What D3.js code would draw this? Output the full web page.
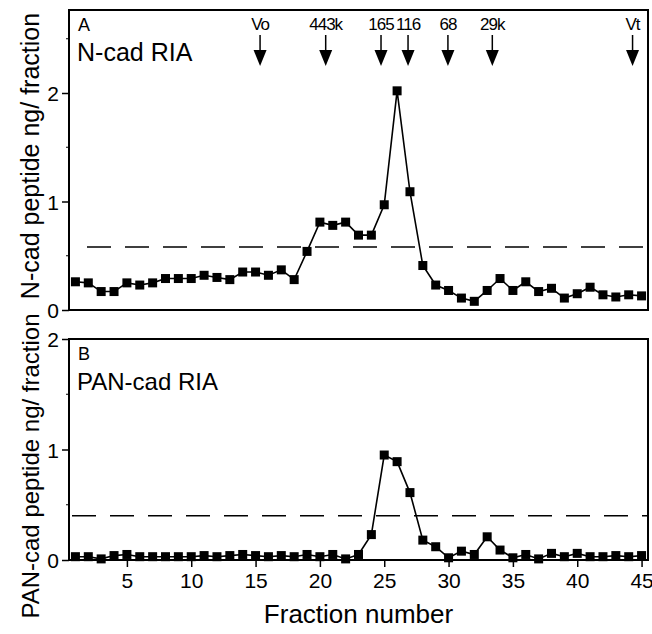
<!DOCTYPE html>
<html>
<head>
<meta charset="utf-8">
<script src="https://cdn.jsdelivr.net/npm/d3@7"></script>
<style>
  body { margin: 0; background: #fff; }
  text { font-family: "Liberation Sans", Arial, sans-serif; fill: #000; }
</style>
</head>
<body>
<script>
// fractions 1..45
var fractions = d3.range(1, 46);

var ncad = [0.26, 0.25, 0.17, 0.17, 0.25, 0.23, 0.25, 0.29, 0.29, 0.29,
            0.32, 0.30, 0.28, 0.35, 0.35, 0.32, 0.37, 0.28, 0.54, 0.81,
            0.78, 0.81, 0.69, 0.69, 0.97, 2.02, 1.09, 0.41, 0.23, 0.18,
            0.11, 0.08, 0.18, 0.29, 0.18, 0.26, 0.17, 0.20, 0.11, 0.15,
            0.21, 0.14, 0.12, 0.14, 0.13];

var pancad = [0.03, 0.03, 0.01, 0.04, 0.05, 0.03, 0.03, 0.03, 0.03, 0.03,
              0.04, 0.03, 0.04, 0.05, 0.04, 0.03, 0.04, 0.03, 0.05, 0.03,
              0.05, 0.01, 0.05, 0.23, 0.95, 0.89, 0.61, 0.18, 0.12, 0.02,
              0.08, 0.05, 0.21, 0.09, 0.02, 0.05, 0.01, 0.06, 0.03, 0.06,
              0.03, 0.03, 0.04, 0.03, 0.04];

var thresholdA = 0.58;
var thresholdB = 0.40;

var markerLabels = ["Vo", "443k", "165", "116", "68", "29k", "Vt"];
var markerFractions = [15.35, 20.45, 24.75, 26.85, 29.95, 33.4, 44.3];

var xTicks = [5, 10, 15, 20, 25, 30, 35, 40, 45];
var yTicks = [0, 1, 2];

var width = 652, height = 634;
var left = 69, right = 648;

var svg = d3.select("body").append("svg")
    .attr("width", width)
    .attr("height", height);

var x = d3.scaleLinear().domain([0.5, 45.5]).range([left, right]);

function drawPanel(opts) {
    var y = d3.scaleLinear().domain(opts.domain).range([opts.bottom, opts.top]);
    var g = svg.append("g");

    // frame
    g.append("rect")
        .attr("x", left).attr("y", opts.top)
        .attr("width", right - left).attr("height", opts.bottom - opts.top)
        .attr("fill", "none").attr("stroke", "#000").attr("stroke-width", 2);

    // y axis
    var yAxis = d3.axisLeft(y).tickValues(yTicks).tickSize(7).tickPadding(3).tickFormat(d3.format("d"));
    var ya = g.append("g").attr("transform", "translate(" + left + ",0)").call(yAxis);
    ya.select(".domain").remove();
    ya.selectAll("line").attr("stroke-width", 1.5);
    ya.selectAll("text").style("font-size", "21px").attr("dy", "0.36em");
    // minor ticks
    g.selectAll(".minor").data([0.5, 1.5, 2.5].filter(function(v) { return v < opts.domain[1]; }))
        .enter().append("line")
        .attr("x1", left - 3).attr("x2", left)
        .attr("y1", function(d) { return y(d); }).attr("y2", function(d) { return y(d); })
        .attr("stroke", "#000").attr("stroke-width", 1);

    // dashed line
    g.append("line")
        .attr("x1", opts.dashStart).attr("x2", right)
        .attr("y1", y(opts.threshold)).attr("y2", y(opts.threshold))
        .attr("stroke", "#000").attr("stroke-width", 1.5)
        .attr("stroke-dasharray", "24,14");

    var pts = fractions.map(function(f, i) { return [f, opts.values[i]]; });
    g.append("path")
        .datum(pts)
        .attr("fill", "none").attr("stroke", "#000").attr("stroke-width", 1.6)
        .attr("d", d3.line().x(function(d) { return x(d[0]); }).y(function(d) { return y(d[1]); }));

    g.selectAll(".pt").data(pts).enter().append("rect")
        .attr("x", function(d) { return x(d[0]) - 4.5; })
        .attr("y", function(d) { return y(d[1]) - 4.5; })
        .attr("width", 9).attr("height", 9)
        .attr("fill", "#000");

    g.append("text").attr("x", left + 9).attr("y", opts.top + 21)
        .style("font-size", "18px").text(opts.letter);
    g.append("text").attr("x", left + 8).attr("y", opts.top + opts.titleDy)
        .style("font-size", opts.titleSize).text(opts.title);

    // axis title
    g.append("text")
        .attr("transform", "translate(39," + opts.labelY + ") rotate(-90)")
        .attr("text-anchor", "middle")
        .style("font-size", opts.labelSize)
        .text(opts.ylabel);
    return y;
}

drawPanel({
    top: 10, bottom: 310, domain: [0, 2.765], values: ncad, threshold: thresholdA,
    dashStart: 87, letter: "A", title: "N-cad RIA", titleDy: 51, titleSize: "25px",
    ylabel: "N-cad peptide ng/ fraction", labelY: 156, labelSize: "25px"
});

drawPanel({
    top: 339, bottom: 560, domain: [0, 2], values: pancad, threshold: thresholdB,
    dashStart: 72, letter: "B", title: "PAN-cad RIA", titleDy: 51, titleSize: "24px",
    ylabel: "PAN-cad peptide ng/ fraction", labelY: 466, labelSize: "24px"
});

// x axis on bottom panel
var xAxis = d3.axisBottom(x).tickValues(xTicks).tickSize(7).tickPadding(6);
var xa = svg.append("g").attr("transform", "translate(0,560)").call(xAxis);
xa.select(".domain").remove();
xa.selectAll("line").attr("stroke-width", 1.5);
xa.selectAll("text").style("font-size", "21px");

svg.append("text")
    .attr("x", x(23)).attr("y", 623)
    .attr("text-anchor", "middle")
    .style("font-size", "26px")
    .text("Fraction number");

// elution markers
var mk = svg.selectAll(".mk").data(markerFractions).enter().append("g")
    .attr("transform", function(d) { return "translate(" + x(d) + ",0)"; });
mk.append("text").attr("y", 30).attr("text-anchor", "middle")
    .style("font-size", "17px")
    .style("letter-spacing", "-1px")
    .text(function(d, i) { return markerLabels[i]; });
mk.append("line").attr("y1", 35).attr("y2", 52)
    .attr("stroke", "#000").attr("stroke-width", 1.5);
mk.append("path").attr("d", "M-6.5,50L6.5,50L0,66Z").attr("fill", "#000");
</script>
</body>
</html>
